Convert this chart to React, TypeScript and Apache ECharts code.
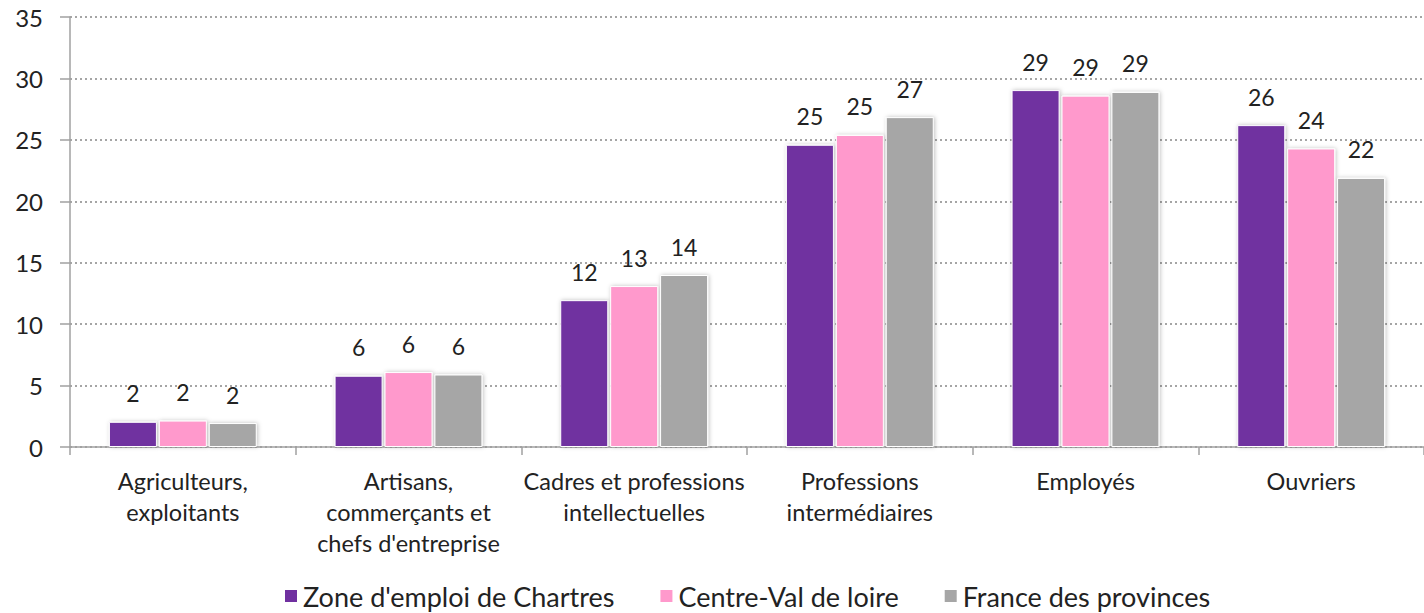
import React, { useEffect, useRef } from "react";
import * as echarts from "echarts";

const categories = [
  "Agriculteurs,\nexploitants",
  "Artisans,\ncommerçants et\nchefs d'entreprise",
  "Cadres et professions\nintellectuelles",
  "Professions\nintermédiaires",
  "Employés",
  "Ouvriers",
];
const seriesNames = ["Zone d'emploi de Chartres", "Centre-Val de loire", "France des provinces"];
const chartres = [2.05, 5.8, 11.95, 24.6, 29.05, 26.2];
const centreVal = [2.15, 6.1, 13.1, 25.4, 28.6, 24.3];
const france = [1.95, 5.9, 14.0, 26.85, 28.9, 21.9];
const colors = ["#7030A0", "#FF99CC", "#A6A6A6"];

const FONT = "Lato, 'Open Sans', sans-serif";

export default function App() {
  const ref = useRef<HTMLDivElement>(null);
  useEffect(() => {
    if (!ref.current) return;
    const chart = echarts.init(ref.current, null, { renderer: "svg" });
    const dataSets = [chartres, centreVal, france];
    chart.setOption({
      animation: false,
      backgroundColor: "#ffffff",
      textStyle: { fontFamily: FONT },
      grid: { left: 70, top: 17, bottom: 166, right: -8, containLabel: false },
      legend: {
        data: seriesNames,
        top: 582,
        left: 283,
        padding: 0,
        itemWidth: 14,
        itemHeight: 14,
        itemGap: 44,
        icon: "rect",
        textStyle: { fontSize: 27, lineHeight: 28, color: "#222", fontFamily: FONT },
      },
      xAxis: {
        type: "category",
        data: categories,
        axisLine: { show: true, lineStyle: { color: "#A0A0A0", width: 1.5 } },
        axisTick: { show: true, length: 8, lineStyle: { color: "#A0A0A0", width: 1.5 } },
        axisLabel: {
          fontSize: 23.5,
          lineHeight: 31,
          color: "#222",
          margin: 18,
          interval: 0,
          fontFamily: FONT,
        },
      },
      yAxis: {
        type: "value",
        min: 0,
        max: 35,
        interval: 5,
        axisLine: { show: true, lineStyle: { color: "#A0A0A0", width: 1.5 } },
        axisTick: { show: true, length: 10, lineStyle: { color: "#A0A0A0", width: 1.5 } },
        axisLabel: { fontSize: 24, color: "#222", margin: 27, fontFamily: FONT },
        splitLine: { show: true, lineStyle: { color: "#888", type: [2, 3], width: 1.5 } },
      },
      series: seriesNames.map((name, i) => ({
        name,
        type: "bar",
        data: dataSets[i],
        barWidth: 48,
        barGap: "4%",
        itemStyle: {
          color: colors[i],
          borderColor: "#ffffff",
          borderWidth: 1,
          shadowBlur: 4,
          shadowColor: "rgba(0,0,0,0.25)",
          shadowOffsetX: 1,
          shadowOffsetY: 0,
        },
        label: {
          show: true,
          position: "top",
          distance: 17,
          fontSize: 23,
          color: "#222",
          fontFamily: FONT,
          formatter: (p: any) => String(Math.round(p.value)),
        },
      })),
    });
    return () => chart.dispose();
  }, []);
  return (
    <div
      ref={ref}
      style={{ position: "absolute", left: 0, top: 0, width: 1424, height: 613 }}
    />
  );
}
